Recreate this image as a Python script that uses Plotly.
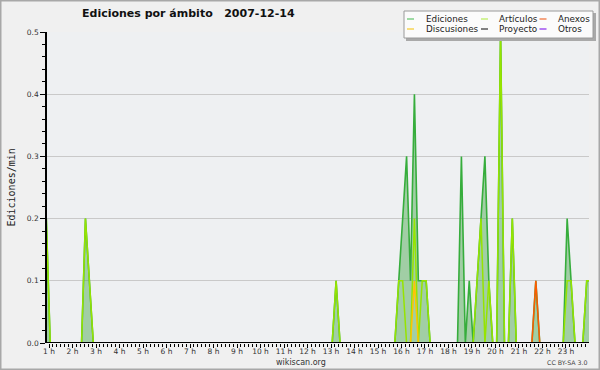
import plotly.graph_objects as go

# ---------------- data (one sample every 10 minutes) ----------------
grid_first = "00:53"
grid_last = "24:03"
grid_step_min = 10

ed_times = ["00:53", "02:33", "02:43", "13:13", "15:53", "16:03", "16:13", "16:23",
            "16:33", "16:43", "16:53", "17:03", "18:33", "18:53", "19:13", "19:23",
            "19:33", "19:43", "20:13", "20:43", "21:43", "23:03", "23:13", "23:53", "24:03"]
ed_vals = [0.2, 0.2, 0.1, 0.1, 0.1, 0.2, 0.3, 0.1,
           0.4, 0.1, 0.1, 0.1, 0.3, 0.1, 0.1, 0.2,
           0.3, 0.1, 0.5, 0.2, 0.1, 0.2, 0.1, 0.1, 0.1]

art_times = ["00:53", "02:33", "02:43", "13:13", "15:53", "16:03", "16:33", "16:53",
             "17:03", "19:13", "19:23", "19:43", "20:13", "20:43", "23:03", "23:13",
             "23:53", "24:03"]
art_vals = [0.2, 0.2, 0.1, 0.1, 0.1, 0.1, 0.2, 0.1,
            0.1, 0.1, 0.2, 0.1, 0.5, 0.2, 0.1, 0.1,
            0.1, 0.1]

disc_times = ["16:33"]
disc_vals = [0.1]

anexos_times = ["21:43"]
anexos_vals = [0.1]

proyecto_times = []
proyecto_vals = []

otros_times = []
otros_vals = []

tick_hours = list(range(1, 24))
tick_labels = [f"{h} h" for h in tick_hours]

series_names = ["Ediciones", "Artículos", "Anexos", "Discusiones", "Proyecto", "Otros"]

# ---------------- helpers ----------------
def to_min(s):
    h, m = s.split(":")
    return int(h) * 60 + int(m)

grid = list(range(to_min(grid_first), to_min(grid_last) + 1, grid_step_min))
grid_x = [m / 60 for m in grid]

def full_series(times, vals):
    d = {to_min(t): v for t, v in zip(times, vals)}
    return [d.get(m, 0.0) for m in grid]

W, H = 600, 370
ML, MR, MT, MB = 47, 11, 32, 27
PW, PH = W - ML - MR, H - MT - MB

def px(x):
    return (x - ML) / PW

def py(y):
    return (H - MB - y) / PH

FONT = "DejaVu Sans"

fig = go.Figure()

# Ediciones: filled area + line
fig.add_trace(go.Scatter(
    x=grid_x, y=full_series(ed_times, ed_vals), mode="lines",
    line=dict(color="#36ad3c", width=1.6), fill="tozeroy",
    fillcolor="rgba(70,165,75,0.46)", name="Ediciones", showlegend=False,
    hoverinfo="skip"))

line_styles = [
    ("Artículos", art_times, art_vals, "#96e400"),
    ("Discusiones", disc_times, disc_vals, "#ffc400"),
    ("Anexos", anexos_times, anexos_vals, "#ff5a00"),
    ("Proyecto", proyecto_times, proyecto_vals, "#505050"),
    ("Otros", otros_times, otros_vals, "#9a3cf0"),
]
for name, t, v, c in line_styles:
    fig.add_trace(go.Scatter(
        x=grid_x, y=full_series(t, v), mode="lines",
        line=dict(color=c, width=1.5), name=name, showlegend=False,
        hoverinfo="skip"))

shapes = []
annotations = []

# black baseline drawn over the zero-valued lines
shapes.append(dict(type="line", xref="paper", yref="y", x0=0, x1=1, y0=0, y1=0,
                   line=dict(color="#000000", width=2), layer="above"))

# outer frame
shapes.append(dict(type="rect", xref="paper", yref="paper",
                   x0=px(0), x1=px(W), y0=py(H), y1=py(0),
                   line=dict(color="#a8a8a8", width=3), fillcolor="rgba(0,0,0,0)",
                   layer="above"))

# manual legend box
shapes.append(dict(type="rect", xref="paper", yref="paper",
                   x0=px(406), x1=px(596), y0=py(41), y1=py(13),
                   line=dict(width=0), fillcolor="#a9a9a9", layer="above"))
shapes.append(dict(type="rect", xref="paper", yref="paper",
                   x0=px(404), x1=px(593), y0=py(38), y1=py(11),
                   line=dict(color="#9a9a9a", width=1), fillcolor="#fbfbfb",
                   layer="above"))

legend_layout = [
    ("Ediciones", "#7fcf87", 407, 424, 19),
    ("Artículos", "#c6f07a", 481, 496.5, 19),
    ("Anexos", "#f3895a", 539.5, 555.5, 19),
    ("Discusiones", "#f7d455", 407, 424, 29),
    ("Proyecto", "#5a5a5a", 481, 496.5, 29),
    ("Otros", "#a052f0", 539.5, 555.5, 29),
]
for name, col, sx, tx, yy in legend_layout:
    shapes.append(dict(type="line", xref="paper", yref="paper",
                       x0=px(sx), x1=px(sx + 7), y0=py(yy), y1=py(yy),
                       line=dict(color=col, width=1.5), layer="above"))
    annotations.append(dict(text=name, xref="paper", yref="paper",
                            x=px(tx), y=py(yy), xanchor="left", yanchor="middle",
                            showarrow=False,
                            font=dict(family=FONT, size=8.8, color="#222222")))

# title
annotations.append(dict(text="<b>Ediciones por ámbito\u00a0\u00a0 2007-12-14</b>",
                        xref="paper", yref="paper", x=px(188.5), y=py(14),
                        xanchor="center", yanchor="middle", showarrow=False,
                        font=dict(family=FONT, size=11, color="#111111")))
# y axis title
annotations.append(dict(text="Ediciones/min", xref="paper", yref="paper",
                        x=px(11), y=py(187.5), xanchor="center", yanchor="middle",
                        textangle=-90, showarrow=False,
                        font=dict(family="DejaVu Sans Mono", size=10, color="#222222")))
# footer
annotations.append(dict(text="wikiscan.org", xref="paper", yref="paper",
                        x=px(300.5), y=py(362.5), xanchor="center", yanchor="middle",
                        showarrow=False,
                        font=dict(family=FONT, size=8, color="#333333")))
annotations.append(dict(text="CC BY-SA 3.0", xref="paper", yref="paper",
                        x=px(590), y=py(362.5), xanchor="right", yanchor="middle",
                        showarrow=False,
                        font=dict(family=FONT, size=6.3, color="#444444")))

fig.update_layout(
    width=W, height=H, autosize=False,
    margin=dict(l=ML, r=MR, t=MT, b=MB, pad=0),
    paper_bgcolor="#f0f0f0", plot_bgcolor="#eef0f2",
    showlegend=False,
    shapes=shapes, annotations=annotations,
    xaxis=dict(range=[0.913, 23.98], showgrid=False, zeroline=False,
               showline=False,
               tickvals=tick_hours, ticktext=tick_labels,
               ticks="outside", ticklen=4, tickcolor="#000000", tickwidth=1,
               ticklabelstandoff=-3,
               tickfont=dict(family=FONT, size=7.5, color="#333333"),
               minor=dict(dtick=1 / 6, tick0=0, ticks="outside", ticklen=3,
                          tickcolor="#000000", tickwidth=1, showgrid=False),
               fixedrange=True),
    yaxis=dict(range=[0, 0.5], showgrid=True, gridcolor="#c9c9c9", gridwidth=1,
               zeroline=False, showline=True, linecolor="#000000", linewidth=1.5,
               tickvals=[0, 0.1, 0.2, 0.3, 0.4, 0.5],
               ticktext=["0.0", "0.1", "0.2", "0.3", "0.4", "0.5"],
               ticks="outside", ticklen=5, tickcolor="#000000", tickwidth=1,
               tickfont=dict(family=FONT, size=7.5, color="#333333"),
               minor=dict(dtick=0.02, tick0=0, ticks="outside", ticklen=3,
                          tickcolor="#000000", tickwidth=1, showgrid=False),
               fixedrange=True),
)

fig.write_html("out.html")
